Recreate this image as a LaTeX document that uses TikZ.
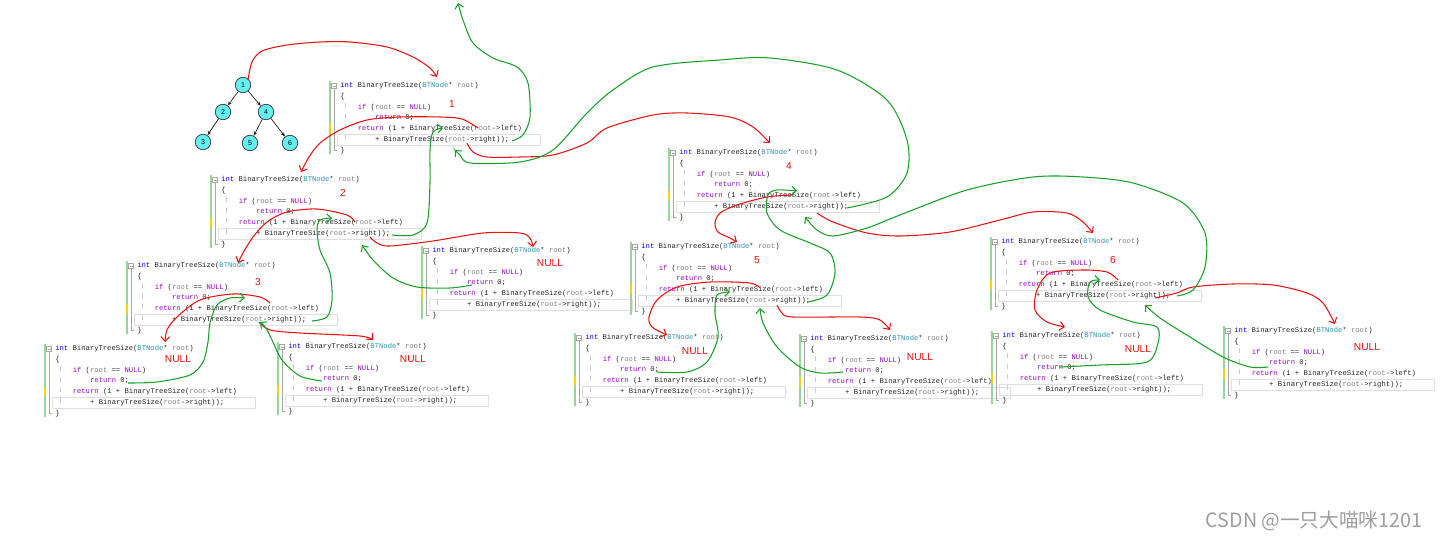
\documentclass[tikz,border=0pt]{standalone}
\usepackage{fontspec}
\usetikzlibrary{arrows.meta}
\setmainfont{Liberation Sans}
\newfontfamily\codefont{Liberation Mono}
\newfontfamily\cjkfont{Noto Sans CJK SC}

\definecolor{kwblue}{RGB}{0,0,255}
\definecolor{kwpurple}{RGB}{143,8,196}
\definecolor{tyteal}{RGB}{43,145,175}
\definecolor{prgray}{RGB}{128,128,128}
\definecolor{penred}{RGB}{232,16,16}
\definecolor{pengreen}{RGB}{24,160,40}
\definecolor{bargreen}{RGB}{150,215,150}
\definecolor{nodecyan}{RGB}{100,240,240}

\newcommand\cInt[1]{\textcolor{kwblue}{#1}}
\newcommand\cKw[1]{\textcolor{kwpurple}{#1}}
\newcommand\cTy[1]{\textcolor{tyteal}{#1}}
\newcommand\cPr[1]{\textcolor{prgray}{#1}}

% one editor snapshot of the function, #2 = centre of the fold box
\newcommand\codeblock[2]{%
  \begin{scope}[shift={#2}]
    \draw[foldbar] (-4,-5) -- (-4,68);
    \draw[foldmark] (-4,38) -- (-4,47);
    \draw[foldline] (-2.5,-2.5) rectangle (2.5,2.5) (-1.5,0) -- (1.5,0);
    \draw[foldline] (0,2.5) -- (0,64) -- (3,64);
    \draw[guide] (11,17) -- (11,59);
    \draw[curline] (3,48) rectangle (206,59);
    \node[code] (#1-0) at (6,0) {\cInt{int} BinaryTreeSize(\cTy{BTNode}* \cPr{root})};
    \node[code] (#1-1) at (6,10.7) {\{};
    \node[code] (#1-2) at (23.4,21.4) {\cKw{if} (\cPr{root} == \cKw{NULL})};
    \node[code] (#1-3) at (40.8,32.1) {\cKw{return} 0;};
    \node[code] (#1-4) at (23.4,42.8) {\cKw{return} (1 + BinaryTreeSize(\cPr{root}->left)};
    \node[code] (#1-5) at (40.8,53.5) {+ BinaryTreeSize(\cPr{root}->right));};
    \node[code] (#1-6) at (6,64.2) {\}};
  \end{scope}}

\begin{document}
\begin{tikzpicture}[x=0.02cm, y=-0.02cm,
    code/.style={font=\codefont\fontsize{4.1}{5}\selectfont, anchor=west, inner sep=0pt, text=black!85},
    foldbar/.style={draw=bargreen, line width=1.1pt},
    foldmark/.style={draw=yellow!70!orange, line width=1.1pt},
    foldline/.style={draw=gray!70, line width=0.35pt},
    guide/.style={draw=gray!40, dashed, line width=0.3pt},
    curline/.style={draw=gray!25, line width=0.4pt},
    tnode/.style={circle, draw=gray!40!black, fill=nodecyan, line width=0.4pt, minimum size=8.8pt, inner sep=0pt, font=\fontsize{4}{5}\selectfont},
    tedge/.style={draw=gray!30!black, line width=0.4pt, -{Stealth[length=2.5pt,width=2pt]}},
    lbl/.style={text=penred, font=\fontsize{5.8}{6}\selectfont, inner sep=0pt},
    redpen/.style={draw=penred, line width=0.6pt, -{Straight Barb[length=2.6pt,width=5pt]}},
    greenpen/.style={draw=pengreen, line width=0.6pt, -{Straight Barb[length=2.6pt,width=5pt]}}]

\useasboundingbox (0,0) rectangle (1440,540);
\fill[white] (0,0) rectangle (1440,540);

% the tree
\node[tnode] (t1) at (243,85) {1};
\node[tnode] (t2) at (223,112) {2};
\node[tnode] (t4) at (266,112) {4};
\node[tnode] (t3) at (203,142) {3};
\node[tnode] (t5) at (250,143) {5};
\node[tnode] (t6) at (290,143) {6};
\draw[tedge] (t1) -- (t2);
\draw[tedge] (t1) -- (t4);
\draw[tedge] (t2) -- (t3);
\draw[tedge] (t4) -- (t5);
\draw[tedge] (t4) -- (t6);

% the calls
\codeblock{b1}{(334,86)}
\codeblock{b2}{(215,180)}
\codeblock{b3}{(131,266)}
\codeblock{b3l}{(49,349)}
\codeblock{b3r}{(282,347)}
\codeblock{b2r}{(426,251)}
\codeblock{b4}{(673,153)}
\codeblock{b5}{(635,247)}
\codeblock{b5l}{(579,338)}
\codeblock{b5r}{(804,339)}
\codeblock{b6}{(995,242)}
\codeblock{b6l}{(996,336)}
\codeblock{b6r}{(1228,331)}

% red notes
\node[lbl] (n1) at (452,104) {1};
\node[lbl] (n2) at (343,193) {2};
\node[lbl] (n3) at (258,282) {3};
\node[lbl] (n4) at (789,166) {4};
\node[lbl] (n5) at (757,260) {5};
\node[lbl] (n6) at (1113,260) {6};
\node[lbl] (z3l) at (178,359) {NULL};
\node[lbl] (z3r) at (413,359) {NULL};
\node[lbl] (z2r) at (550,263) {NULL};
\node[lbl] (z5l) at (695,351) {NULL};
\node[lbl] (z5r) at (920,357) {NULL};
\node[lbl] (z6l) at (1138,349) {NULL};
\node[lbl] (z6r) at (1367,347) {NULL};

% red: going down
\draw[redpen] plot[smooth] coordinates {(248,80) (252,62) (262,51) (287,45) (320,42) (350,42) (387,47) (413,57) (430,68) (437,77)};
\draw[redpen] plot[smooth] coordinates {(478,128) (462,119) (440,117) (400,117) (367,120) (340,130) (320,143) (309,157) (301,172)};
\draw[redpen] plot[smooth] coordinates {(467,143) (473,152) (487,157) (520,157) (553,155) (587,143) (607,128) (653,115) (687,113) (730,117) (753,127) (770,143)};
\draw[redpen] plot[smooth] coordinates {(355,222) (347,215) (317,209) (287,212) (267,222) (253,237) (243,253) (238,263)};
\draw[redpen] plot[smooth] coordinates {(370,237) (377,243) (390,246) (433,241) (483,233) (520,233) (530,238) (533,247)};
\draw[redpen] plot[smooth] coordinates {(270,303) (260,297) (233,294) (200,300) (177,317) (167,330) (165,342)};
\draw[redpen] plot[smooth] coordinates {(259,322) (270,330) (300,333) (360,336) (373,340)};
\draw[redpen] plot[smooth] coordinates {(793,195) (767,197) (737,205) (720,213) (715,223) (718,232) (730,238) (737,242)};
\draw[redpen] plot[smooth] coordinates {(817,213) (833,222) (867,233) (900,236) (950,232) (1000,220) (1033,212) (1067,213) (1083,222) (1093,233)};
\draw[redpen] plot[smooth] coordinates {(760,288) (750,283) (710,282) (677,287) (657,300) (649,317) (652,327) (667,335)};
\draw[redpen] plot[smooth] coordinates {(777,305) (782,313) (793,317) (860,317) (880,320) (890,330)};
\draw[redpen] plot[smooth] coordinates {(1118,280) (1107,272) (1083,270) (1050,273) (1037,290) (1035,310) (1047,322) (1065,327)};
\draw[redpen] plot[smooth] coordinates {(1155,298) (1177,293) (1193,287) (1233,284) (1273,285) (1307,293) (1323,303) (1335,324)};

% green: coming back
\draw[greenpen] plot[smooth] coordinates {(128,383) (157,382) (190,375) (203,362) (208,342) (210,323) (217,305) (230,298) (245,298)};
\draw[greenpen] plot[smooth] coordinates {(322,381) (300,376) (282,360) (272,340) (266,328) (260,322)};
\draw[greenpen] plot[smooth] coordinates {(312,321) (327,317) (332,300) (330,273) (320,250) (317,230) (320,220) (332,218)};
\draw[greenpen] plot[smooth] coordinates {(472,285) (450,288) (417,287) (393,278) (373,260) (362,245)};
\draw[greenpen] plot[smooth] coordinates {(392,235) (413,235) (427,223) (430,183) (430,150) (433,132) (443,128)};
\draw[greenpen] plot[smooth] coordinates {(512,141) (523,135) (530,117) (528,83) (517,67) (493,58) (473,43) (463,20) (458,3)};
\draw[greenpen] plot[smooth] coordinates {(847,208) (887,197) (907,173) (907,140) (887,100) (837,70) (770,58) (720,60) (653,67) (613,90) (587,113) (553,150) (520,162) (470,163) (460,155) (455,150)};
\draw[greenpen] plot[smooth] coordinates {(1177,296) (1193,290) (1205,267) (1205,233) (1183,203) (1133,183) (1083,177) (1033,177) (967,190) (900,215) (867,228) (833,236) (817,230) (805,217)};
\draw[greenpen] plot[smooth] coordinates {(808,302) (827,295) (835,273) (830,253) (810,243) (780,230) (767,213) (768,195) (777,190) (797,191)};
\draw[greenpen] plot[smooth] coordinates {(657,372) (687,372) (707,362) (718,337) (715,313) (717,295) (730,292)};
\draw[greenpen] plot[smooth] coordinates {(843,372) (820,373) (800,367) (777,347) (763,323) (760,308)};
\draw[greenpen] plot[smooth] coordinates {(1060,367) (1100,365) (1147,362) (1158,343) (1157,327) (1133,322) (1100,310) (1088,297) (1090,282) (1100,280)};
\draw[greenpen] plot[smooth] coordinates {(1268,367) (1250,367) (1223,357) (1190,337) (1160,318) (1145,305)};

\node[text=gray!75, font=\cjkfont\fontsize{11.2}{13}\selectfont, inner sep=0pt] (wm) at (1314,521) {CSDN @一只大喵咪1201};

\end{tikzpicture}
\end{document}
